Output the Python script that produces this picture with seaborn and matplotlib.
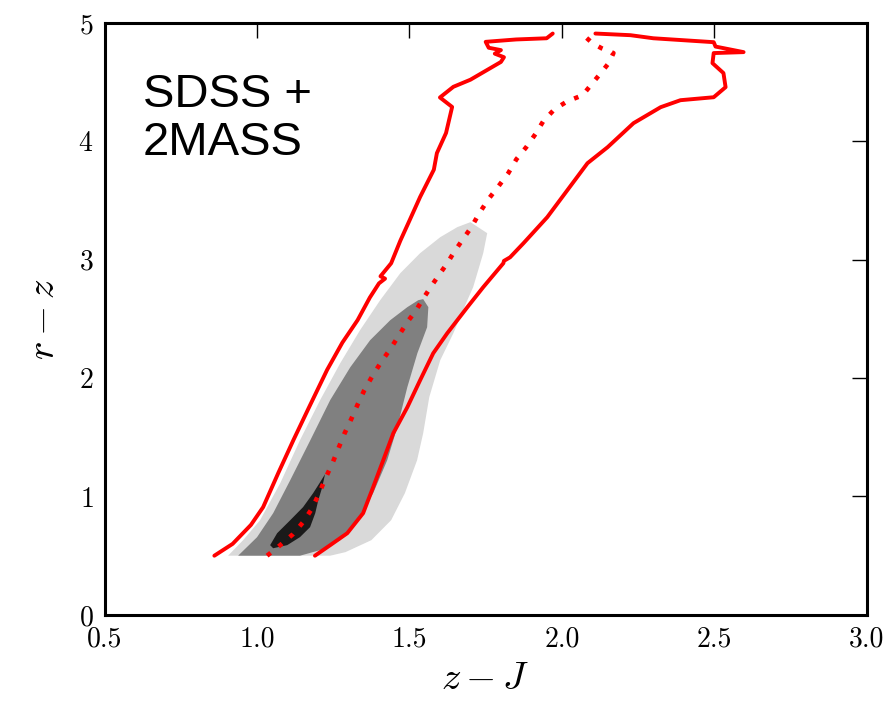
import matplotlib
matplotlib.use("Agg")
import matplotlib.pyplot as plt
import pandas as pd
import seaborn as sns

# outer red contour, split where it leaves the top of the box
outer_left_x = [0.86, 0.92, 0.98, 1.02, 1.07, 1.12, 1.17, 1.23, 1.28, 1.33, 1.37, 1.40, 1.42, 1.405,
                1.44, 1.47, 1.50, 1.535, 1.58, 1.59, 1.62, 1.64, 1.60, 1.644, 1.70, 1.74, 1.80,
                1.81, 1.78, 1.80, 1.76, 1.75, 1.85, 1.95, 1.97]
outer_left_y = [0.50, 0.60, 0.76, 0.91, 1.20, 1.48, 1.75, 2.07, 2.30, 2.49, 2.68, 2.80, 2.84, 2.86,
                2.97, 3.16, 3.33, 3.53, 3.76, 3.90, 4.07, 4.29, 4.37, 4.46, 4.52, 4.58, 4.67,
                4.71, 4.74, 4.77, 4.79, 4.84, 4.86, 4.87, 4.91]
outer_right_x = [2.11, 2.225, 2.30, 2.498, 2.504, 2.596, 2.498, 2.494, 2.530, 2.537, 2.498, 2.389,
                 2.324, 2.235, 2.150, 2.084, 2.018, 1.952, 1.874, 1.83, 1.81, 1.808, 1.742, 1.690,
                 1.624, 1.578, 1.535, 1.493, 1.447, 1.414, 1.381, 1.348, 1.296, 1.240, 1.19]
outer_right_y = [4.91, 4.896, 4.87, 4.837, 4.80, 4.753, 4.745, 4.660, 4.576, 4.457, 4.372, 4.347,
                 4.288, 4.153, 3.950, 3.815, 3.587, 3.359, 3.139, 3.02, 2.99, 2.970, 2.768, 2.599,
                 2.379, 2.210, 1.982, 1.754, 1.534, 1.306, 1.079, 0.859, 0.690, 0.589, 0.50]

# median track (dotted)
median_x = [1.033, 1.076, 1.118, 1.151, 1.181, 1.204, 1.223, 1.246, 1.266, 1.286, 1.309, 1.329,
            1.352, 1.378, 1.407, 1.437, 1.466, 1.493, 1.522, 1.548, 1.578, 1.601, 1.624, 1.644,
            1.673, 1.703, 1.729, 1.759, 1.792, 1.824, 1.851, 1.883, 1.913, 1.939, 1.976, 2.018,
            2.068, 2.100, 2.130, 2.156, 2.169, 2.130, 2.100, 2.071]
median_y = [0.50, 0.589, 0.682, 0.783, 0.901, 1.028, 1.146, 1.273, 1.400, 1.527, 1.653, 1.771,
            1.898, 2.016, 2.135, 2.245, 2.363, 2.473, 2.574, 2.683, 2.801, 2.886, 2.970, 3.055,
            3.164, 3.274, 3.392, 3.511, 3.620, 3.730, 3.849, 3.950, 4.060, 4.170, 4.271, 4.338,
            4.389, 4.490, 4.583, 4.668, 4.745, 4.786, 4.829, 4.896]

# filled density levels (outer -> inner)
light_x = [0.905, 0.954, 1.010, 1.076, 1.141, 1.207, 1.273, 1.338, 1.404, 1.470, 1.535, 1.601,
           1.657, 1.700, 1.755, 1.742, 1.709, 1.690, 1.644, 1.601, 1.565, 1.545, 1.525, 1.485,
           1.440, 1.375, 1.290, 1.240]
light_y = [0.50, 0.630, 0.800, 1.112, 1.476, 1.814, 2.126, 2.405, 2.658, 2.886, 3.055, 3.190,
           3.275, 3.317, 3.224, 3.055, 2.768, 2.658, 2.379, 2.151, 1.839, 1.534, 1.306, 1.028,
           0.800, 0.631, 0.530, 0.50]
mid_x = [0.938, 1.000, 1.053, 1.109, 1.175, 1.240, 1.306, 1.371, 1.437, 1.493, 1.529, 1.545,
         1.562, 1.558, 1.526, 1.493, 1.460, 1.427, 1.381, 1.329, 1.273, 1.207, 1.141]
mid_y = [0.50, 0.656, 0.859, 1.138, 1.476, 1.814, 2.092, 2.320, 2.489, 2.599, 2.658, 2.667,
         2.599, 2.430, 2.210, 1.923, 1.585, 1.306, 1.028, 0.800, 0.631, 0.547, 0.50]
dark_x = [1.043, 1.066, 1.109, 1.151, 1.184, 1.207, 1.223, 1.214, 1.201, 1.191, 1.174, 1.141,
          1.099, 1.053]
dark_y = [0.589, 0.690, 0.800, 0.910, 1.028, 1.121, 1.188, 1.079, 0.969, 0.859, 0.741, 0.657,
          0.589, 0.563]

level_colors = ["#d9d9d9", "#808080", "#1a1a1a"]

sns.set_style("white")
plt.rcParams["font.family"] = "serif"
plt.rcParams["font.serif"] = ["cmr10"]
plt.rcParams["mathtext.fontset"] = "cm"
plt.rcParams["axes.formatter.use_mathtext"] = True
for k in ["text.color", "axes.labelcolor", "xtick.color", "ytick.color"]:
    plt.rcParams[k] = "black"

fig = plt.figure(figsize=(8.94, 7.15), dpi=100)
ax = fig.add_axes([0.117, 0.140, 0.8525, 0.828])

for (px, py), c in zip([(light_x, light_y), (mid_x, mid_y), (dark_x, dark_y)], level_colors):
    ax.fill(px, py, color=c, lw=0, zorder=1)

left = pd.DataFrame({"x": outer_left_x, "y": outer_left_y})
right = pd.DataFrame({"x": outer_right_x, "y": outer_right_y})
med = pd.DataFrame({"x": median_x, "y": median_y})
for d in (left, right):
    sns.lineplot(data=d, x="x", y="y", sort=False, estimator=None, color="red", lw=2.8, ax=ax, zorder=3)
sns.lineplot(data=med, x="x", y="y", sort=False, estimator=None, color="red", lw=3.3,
             linestyle=(0, (1, 2.2)), ax=ax, zorder=3)

ax.set_xlim(0.5, 3.0)
ax.set_ylim(0, 5)
ax.set_xticks([0.5, 1.0, 1.5, 2.0, 2.5, 3.0])
ax.set_xticklabels(["0.5", "1.0", "1.5", "2.0", "2.5", "3.0"])
ax.set_yticks([0, 1, 2, 3, 4, 5])
ax.tick_params(direction="in", length=11, width=1, top=True, right=True, labelsize=20, pad=8)
for s in ax.spines.values():
    s.set_linewidth(2.2)
    s.set_color("black")
ax.set_xlabel(r"$z-J$", fontsize=28, labelpad=6)
ax.set_ylabel(r"$r-z$", fontsize=28, labelpad=12)

ax.text(0.05, 0.915, "SDSS +\n2MASS", transform=ax.transAxes, family="Liberation Sans",
        fontsize=34, va="top", ha="left", linespacing=1.1, color="black")

fig.savefig("out.png", dpi=100)
